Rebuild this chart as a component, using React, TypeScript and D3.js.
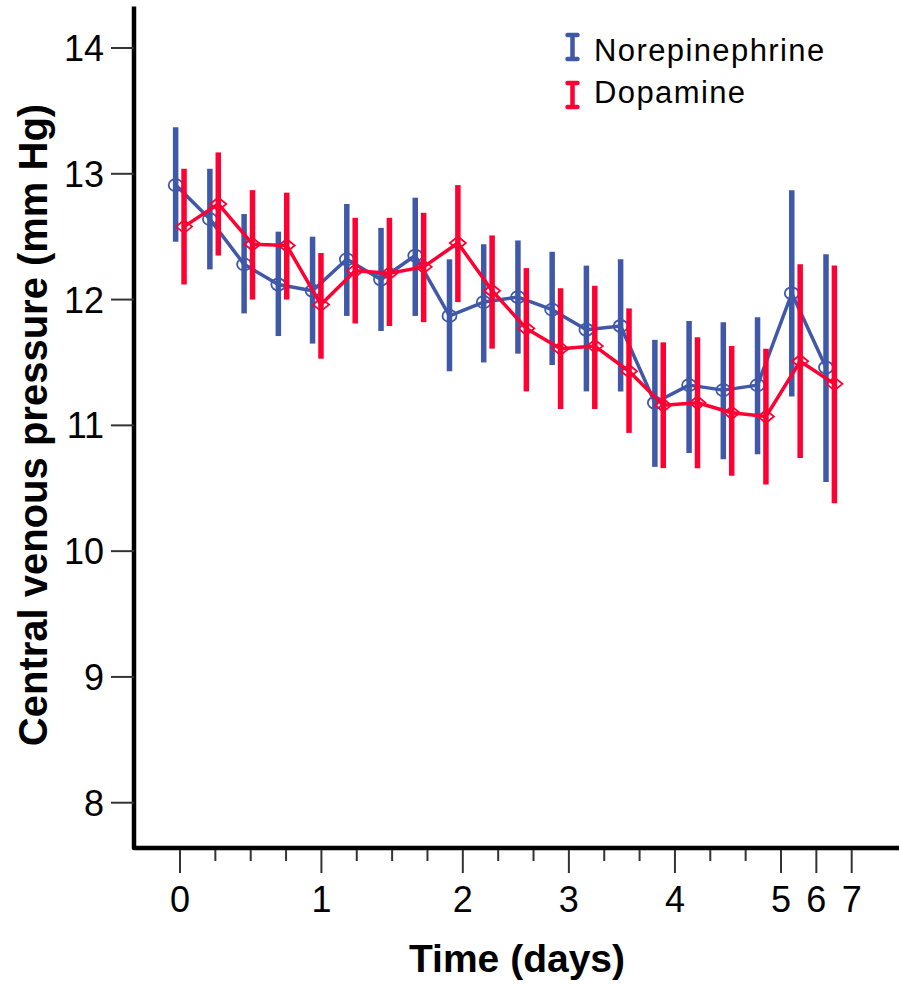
import React from "react";
import * as d3 from "d3";

// sampling times (hours since start)
const timepoints = [0, 6, 12, 18, 24, 30, 36, 42, 48, 56, 64, 72, 80, 88, 96, 104, 112, 120, 144, 168];
// axis tick labels, one per timepoint slot (days)
const tickLabels = ["0", "", "", "", "1", "", "", "", "2", "", "", "3", "", "", "4", "", "", "5", "6", "7"];
const yTicks = [8, 9, 10, 11, 12, 13, 14];

const norMean = [12.91, 12.64, 12.28, 12.12, 12.07, 12.32, 12.16, 12.35, 11.87, 11.98, 12.02, 11.92, 11.76, 11.79, 11.18, 11.32, 11.28, 11.32, 12.05, 11.46];
const norLow = [12.46, 12.24, 11.89, 11.71, 11.65, 11.87, 11.75, 11.87, 11.43, 11.5, 11.57, 11.48, 11.27, 11.27, 10.67, 10.78, 10.73, 10.77, 11.23, 10.55];
const norHigh = [13.37, 13.04, 12.68, 12.54, 12.5, 12.76, 12.57, 12.81, 12.32, 12.44, 12.47, 12.38, 12.27, 12.32, 11.68, 11.83, 11.82, 11.86, 12.87, 12.36];

const dopMean = [12.58, 12.76, 12.44, 12.43, 11.96, 12.23, 12.21, 12.26, 12.45, 12.07, 11.77, 11.61, 11.63, 11.43, 11.16, 11.18, 11.1, 11.07, 11.51, 11.33];
const dopLow = [12.12, 12.35, 12.0, 12.0, 11.53, 11.81, 11.79, 11.82, 11.98, 11.61, 11.27, 11.13, 11.13, 10.94, 10.66, 10.66, 10.6, 10.53, 10.74, 10.38];
const dopHigh = [13.04, 13.17, 12.87, 12.85, 12.37, 12.65, 12.65, 12.69, 12.91, 12.51, 12.25, 12.09, 12.11, 11.93, 11.66, 11.7, 11.63, 11.61, 12.28, 12.27];

const BLUE = "#3F58A8";
const RED = "#FF0033";
const FONT = "'Liberation Sans', Arial, sans-serif";

const W = 899,
  H = 989;

const App = () => {
  // the axis ticks and the plotted points don't share exactly the same spacing
  const xTick = d3.scalePoint<number>().domain(timepoints).range([180, 851.7]);
  const xPt = d3.scalePoint<number>().domain(timepoints).range([179.85, 830.2]);
  const y = d3.scaleLinear().domain([7.64, 14.33]).range([848, 6.5]);
  const dodge = 4.2;
  const axisX = 134;
  const axisY = 848;

  const series = [
    { name: "Norepinephrine", color: BLUE, mean: norMean, low: norLow, high: norHigh, off: -dodge, marker: "circle" },
    { name: "Dopamine", color: RED, mean: dopMean, low: dopLow, high: dopHigh, off: dodge, marker: "diamond" },
  ];

  const line = (s: typeof series[0]) =>
    d3
      .line<number>()
      .x((_, i) => (xPt(timepoints[i]) as number) + s.off)
      .y((d) => y(d))(s.mean) as string;

  return (
    <svg width={W} height={H} style={{ position: "absolute", left: 0, top: 0, background: "#fff" }}>
      {/* axes */}
      <path
        d={`M${axisX},${y(14.33)}V${axisY}H${W}`}
        fill="none"
        stroke="#000"
        strokeWidth={4.5}
        strokeLinejoin="round"
      />
      {yTicks.map((t) => (
        <g key={t}>
          <line x1={axisX - 23} x2={axisX} y1={y(t)} y2={y(t)} stroke="#333" strokeWidth={2} />
          <text x={104} y={y(t) + 13} textAnchor="end" fontFamily={FONT} fontSize={36} fill="#000">
            {t}
          </text>
        </g>
      ))}
      {timepoints.map((t, i) => {
        const x = xTick(t) as number;
        const major = tickLabels[i] !== "";
        return (
          <g key={t}>
            <line x1={x} x2={x} y1={axisY + 2} y2={axisY + (major ? 25 : 13)} stroke="#333" strokeWidth={2} />
            {major && (
              <text x={x} y={912} textAnchor="middle" fontFamily={FONT} fontSize={36} fill="#000">
                {tickLabels[i]}
              </text>
            )}
          </g>
        );
      })}
      <text x={517} y={972} textAnchor="middle" fontFamily={FONT} fontSize={39} fontWeight="bold">
        Time (days)
      </text>
      <text
        transform={`translate(47,${425}) rotate(-90)`}
        textAnchor="middle"
        fontFamily={FONT}
        fontSize={40}
        fontWeight="bold"
      >
        Central venous pressure (mm Hg)
      </text>

      {/* series: bars, line, markers */}
      {series.map((s) => (
        <g key={s.name}>
          {s.mean.map((_, i) => {
            const x = (xPt(timepoints[i]) as number) + s.off;
            return <line key={i} x1={x} x2={x} y1={y(s.high[i])} y2={y(s.low[i])} stroke={s.color} strokeWidth={5.5} />;
          })}
          <path d={line(s)} fill="none" stroke={s.color} strokeWidth={3.5} strokeLinejoin="round" />
          {s.mean.map((m, i) => {
            const x = (xPt(timepoints[i]) as number) + s.off;
            const cy = y(m);
            return s.marker === "circle" ? (
              <ellipse key={i} cx={x} cy={cy} rx={7} ry={6} fill="none" stroke={s.color} strokeWidth={1.8} />
            ) : (
              <path
                key={i}
                d={`M${x - 8},${cy}L${x},${cy - 6.5}L${x + 8},${cy}L${x},${cy + 6.5}Z`}
                fill="none"
                stroke={s.color}
                strokeWidth={1.8}
              />
            );
          })}
        </g>
      ))}

      {/* legend */}
      {series.map((s, i) => {
        const top = 33 + i * 48;
        const cx = 572.5;
        return (
          <g key={s.name}>
            <path
              d={`M${cx - 5},${top + 2}H${cx + 5}M${cx},${top + 2}V${top + 26}M${cx - 5},${top + 26}H${cx + 5}`}
              stroke={s.color}
              strokeWidth={4.5}
              strokeLinecap="round"
              fill="none"
            />
            <text x={594} y={61 + i * 42} fontFamily={FONT} fontSize={31} letterSpacing={1.4} fill="#000">
              {s.name}
            </text>
          </g>
        );
      })}
    </svg>
  );
};

export default App;
